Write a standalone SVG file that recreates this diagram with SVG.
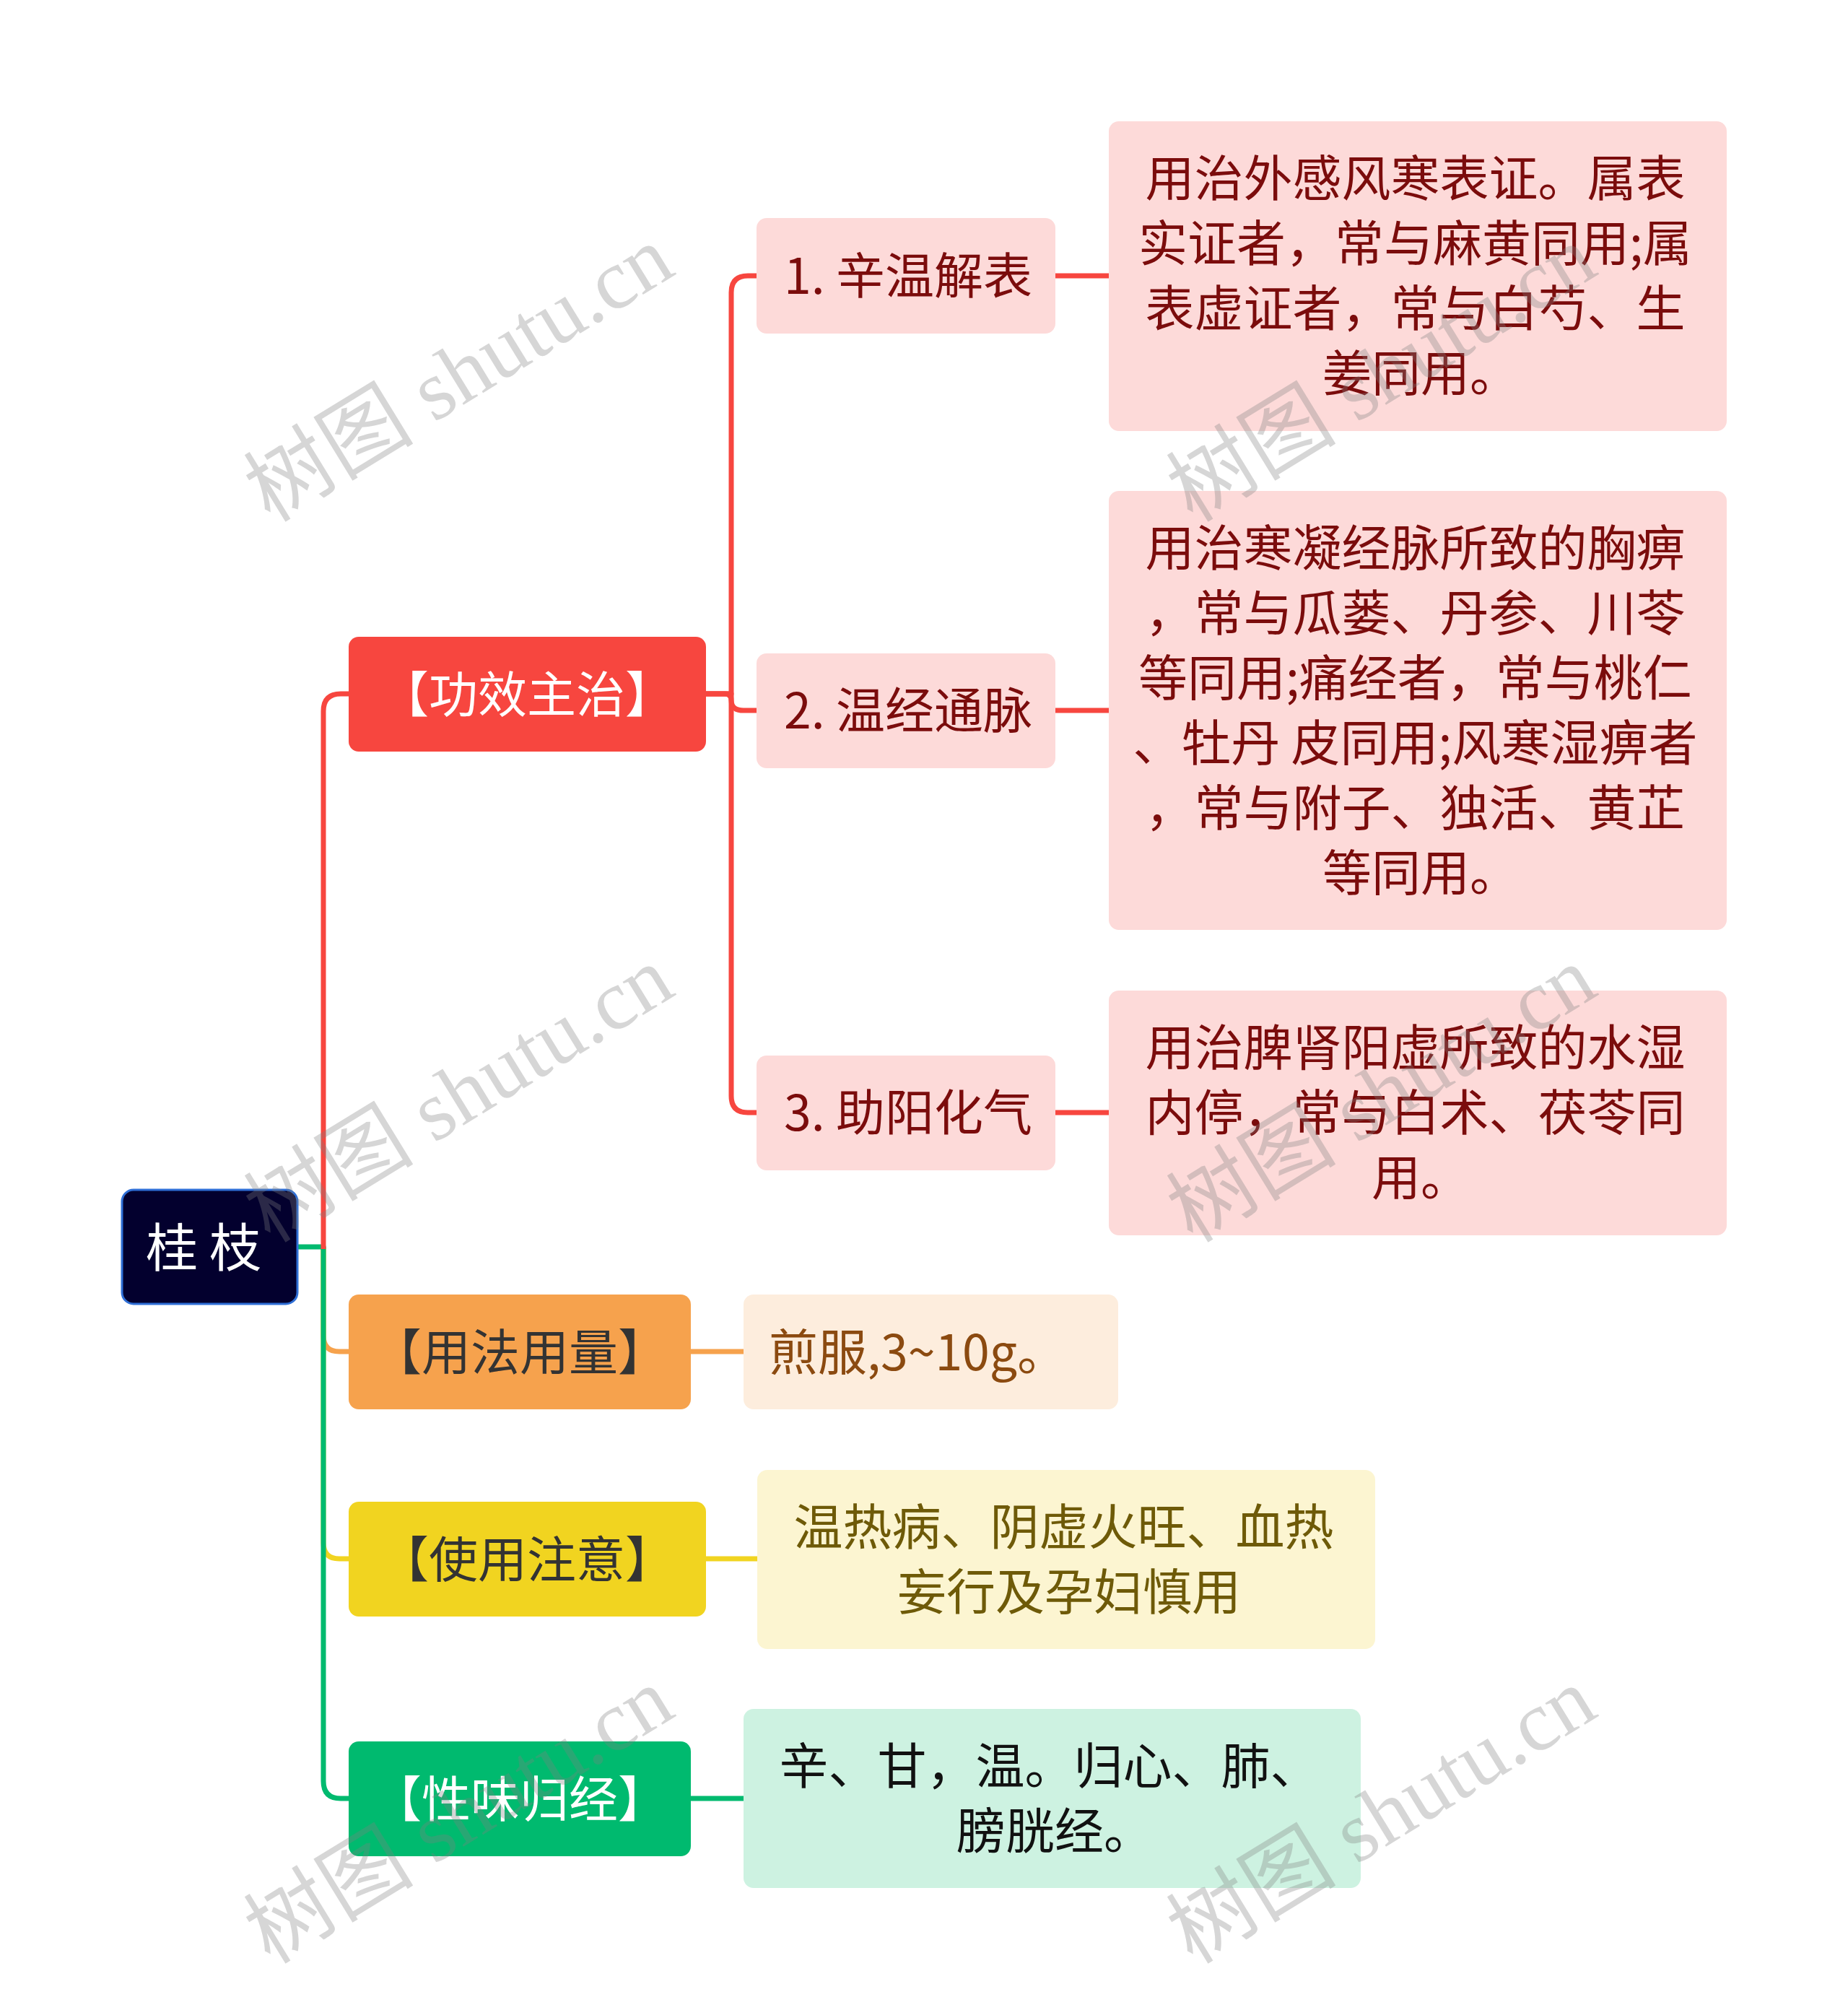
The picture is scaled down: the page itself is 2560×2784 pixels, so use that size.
<svg xmlns="http://www.w3.org/2000/svg" width="2560" height="2784" viewBox="0 0 2560 2784">
<style>
.t{font-family:"Noto Sans CJK SC","Liberation Sans",sans-serif;dominant-baseline:central;text-anchor:middle}
.l{fill:none;stroke-width:7;stroke-linecap:butt;stroke-linejoin:round}
.wm{font-family:"Liberation Serif","Noto Sans CJK SC",serif;font-size:118px;fill:#808080;fill-opacity:0.32;text-anchor:middle;dominant-baseline:central}
</style>
<rect width="2560" height="2784" fill="#ffffff"/>
<g id="connectors">
<path class="l" stroke="#f6a24d" d="M448,1727 V1850 Q448,1872 470,1872 H483"/>
<path class="l" stroke="#f1d420" d="M448,1727 V2137 Q448,2159 470,2159 H483"/>
<path class="l" stroke="#00ba6f" d="M412,1727 H448 V2467 Q448,2491 472,2491 H483"/>
<path class="l" stroke="#f7463f" d="M448,1730 V985 Q448,961 472,961 H483"/>
<path class="l" stroke="#f7463f" d="M977,961 H1013 V405 Q1013,382 1036,382 H1048"/>
<path class="l" stroke="#f7463f" d="M977,961 H1004 Q1013,961 1013,970 Q1013,984 1030,984 H1048"/>
<path class="l" stroke="#f7463f" d="M977,961 H1013 V1518 Q1013,1541 1036,1541 H1048"/>
<path class="l" stroke="#f7463f" d="M1462,382 H1536"/>
<path class="l" stroke="#f7463f" d="M1462,984 H1536"/>
<path class="l" stroke="#f7463f" d="M1462,1541 H1536"/>
<path class="l" stroke="#f6a24d" d="M957,1872 H1030"/>
<path class="l" stroke="#f1d420" d="M978,2159 H1049"/>
<path class="l" stroke="#00ba6f" d="M957,2491 H1030"/>
</g>
<g id="root">
<rect x="169" y="1648" width="243" height="158" rx="16" fill="#03002e" stroke="#2f6fd6" stroke-width="3"/>
<text class="t" x="282" y="1722" font-size="72" fill="#ffffff">桂 枝</text>
</g>
<g id="n-gongxiao">
<rect x="483" y="882" width="495" height="159" rx="14" fill="#f7463f"/>
<text class="t" x="730" y="957" font-size="68" fill="#ffffff">【功效主治】</text>
</g>
<g id="n-yongfa">
<rect x="483" y="1793" width="474" height="159" rx="14" fill="#f6a24d"/>
<text class="t" x="720" y="1868" font-size="68" fill="#333333">【用法用量】</text>
</g>
<g id="n-shiyong">
<rect x="483" y="2080" width="495" height="159" rx="14" fill="#f1d420"/>
<text class="t" x="730" y="2155" font-size="68" fill="#333333">【使用注意】</text>
</g>
<g id="n-xingwei">
<rect x="483" y="2412" width="474" height="159" rx="14" fill="#00ba6f"/>
<text class="t" x="720" y="2487" font-size="68" fill="#ffffff">【性味归经】</text>
</g>
<g id="n-1">
<rect x="1048" y="302" width="414" height="160" rx="14" fill="#fddad9"/>
<text class="t" x="1258" y="377" font-size="68" fill="#7b0c0c">1. 辛温解表</text>
</g>
<g id="n-2">
<rect x="1048" y="905" width="414" height="159" rx="14" fill="#fddad9"/>
<text class="t" x="1258" y="979" font-size="68" fill="#7b0c0c">2. 温经通脉</text>
</g>
<g id="n-3">
<rect x="1048" y="1462" width="414" height="159" rx="14" fill="#fddad9"/>
<text class="t" x="1258" y="1536" font-size="68" fill="#7b0c0c">3. 助阳化气</text>
</g>
<g id="d-1">
<rect x="1536" y="168" width="856" height="429" rx="14" fill="#fddad9"/>
<text class="t" font-size="68" fill="#7b0c0c">
<tspan x="1968" y="242">用治外感风寒表证。属表</tspan>
<tspan x="1968" y="332">实证者，常与麻黄同用;属</tspan>
<tspan x="1968" y="422">表虚证者，常与白芍、生</tspan>
<tspan x="1968" y="512">姜同用。</tspan>
</text>
</g>
<g id="d-2">
<rect x="1536" y="680" width="856" height="608" rx="14" fill="#fddad9"/>
<text class="t" font-size="68" fill="#7b0c0c">
<tspan x="1968" y="754">用治寒凝经脉所致的胸痹</tspan>
<tspan x="1968" y="844">，常与瓜蒌、丹参、川苓</tspan>
<tspan x="1968" y="934">等同用;痛经者，常与桃仁</tspan>
<tspan x="1968" y="1024">、牡丹 皮同用;风寒湿痹者</tspan>
<tspan x="1968" y="1114">，常与附子、独活、黄芷</tspan>
<tspan x="1968" y="1204">等同用。</tspan>
</text>
</g>
<g id="d-3">
<rect x="1536" y="1372" width="856" height="339" rx="14" fill="#fddad9"/>
<text class="t" font-size="68" fill="#7b0c0c">
<tspan x="1968" y="1446">用治脾肾阳虚所致的水湿</tspan>
<tspan x="1968" y="1536">内停，常与白术、茯苓同</tspan>
<tspan x="1968" y="1626">用。</tspan>
</text>
</g>
<g id="d-yongfa">
<rect x="1030" y="1793" width="519" height="159" rx="14" fill="#fdeddd"/>
<text class="t" x="1065" y="1868" font-size="68" fill="#8b4a10" style="text-anchor:start">煎服,3~10g。</text>
</g>
<g id="d-shiyong">
<rect x="1049" y="2036" width="856" height="248" rx="14" fill="#fcf5d1"/>
<text class="t" font-size="68" fill="#6e5a08">
<tspan x="1481" y="2110">温热病、阴虚火旺、血热</tspan>
<tspan x="1481" y="2200">妄行及孕妇慎用</tspan>
</text>
</g>
<g id="d-xingwei">
<rect x="1030" y="2367" width="855" height="248" rx="14" fill="#cdf2e1"/>
<text class="t" font-size="68" fill="#111111">
<tspan x="1461" y="2441">辛、甘，温。归心、肺、</tspan>
<tspan x="1461" y="2531">膀胱经。</tspan>
</text>
</g>
<g id="watermarks">
<text class="wm" transform="translate(636,518) rotate(-31.5)">树图 shutu.cn</text>
<text class="wm" transform="translate(1914,518) rotate(-31.5)">树图 shutu.cn</text>
<text class="wm" transform="translate(636,1516) rotate(-31.5)">树图 shutu.cn</text>
<text class="wm" transform="translate(1914,1516) rotate(-31.5)">树图 shutu.cn</text>
<text class="wm" transform="translate(636,2515) rotate(-31.5)">树图 shutu.cn</text>
<text class="wm" transform="translate(1914,2515) rotate(-31.5)">树图 shutu.cn</text>
</g>
</svg>
